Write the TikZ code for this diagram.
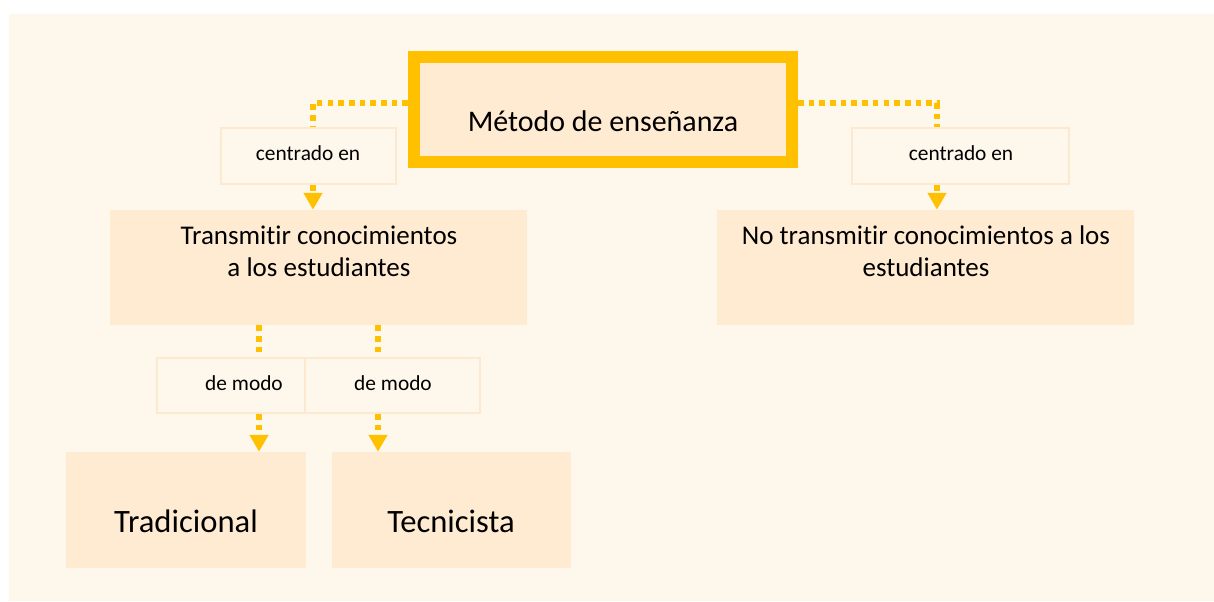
\documentclass[tikz,border=0pt]{standalone}
\usepackage{fontspec}
\setmainfont{Carlito}[Ligatures={NoCommon,NoRare}]
\usetikzlibrary{arrows.meta}
\usetikzlibrary{positioning}
\definecolor{fondo}{HTML}{FEF7EC}
\definecolor{caja}{HTML}{FFEBD1}
\definecolor{borde}{HTML}{FCE9D0}
\definecolor{amarillo}{HTML}{FFC000}
\tikzset{
    mainbox/.style = {rectangle, draw=amarillo, line width=8.5pt, fill=caja, minimum width=9.45cm, minimum height=2.63cm},
    caja/.style = {rectangle, fill=caja, inner sep=0pt},
    etiqueta/.style = {rectangle, draw=borde, line width=1.4pt, fill=fondo, inner sep=0pt},
    txt/.style = {inner sep=0pt, align=center, text=black},
}

\begin{document}
\begin{tikzpicture}[
    x=0.025cm, y=-0.025cm
]
\tikzset{
    link/.style = {amarillo, line width=4pt, dash pattern=on 4pt off 3.6pt},
    linkf/.style = {link, -{Triangle[width=12.8pt,length=12pt]}},
    grande/.style = {txt, font=\fontsize{21.3}{25}\selectfont},
    medio/.style = {txt, font=\fontsize{19.2}{22.7}\selectfont},
    chico/.style = {txt, font=\fontsize{15.2}{18}\selectfont},
    enorme/.style = {txt, font=\fontsize{23.2}{27}\selectfont}
}
\useasboundingbox (0,0) rectangle (1214,601);
\fill[fondo] (9,14) rectangle (1214,601);
% cajas
\node[mainbox] at (603,109.5) (metodo) {};
\node[etiqueta, minimum width=4.375cm, minimum height=1.4cm] at (308.5,156) (cen1) {};
\node[etiqueta, minimum width=5.425cm, minimum height=1.4cm] at (960.5,156) (cen2) {};
\node[caja, minimum width=10.425cm, minimum height=2.875cm] at (318.5,267.5) (trans) {};
\node[caja, minimum width=10.425cm, minimum height=2.875cm] at (925.5,267.5) (notrans) {};
\node[etiqueta, minimum width=3.7cm, minimum height=1.375cm] at (231,385.5) (modo1) {};
\node[etiqueta, minimum width=4.375cm, minimum height=1.375cm] at (392.5,385.5) (modo2) {};
\node[caja, minimum width=6cm, minimum height=2.9cm] at (186,510) (trad) {};
\node[caja, minimum width=5.975cm, minimum height=2.9cm] at (451.5,510) (tecn) {};
% textos
\node[grande, anchor=base] at (603,131) (metodoT) {Método de enseñanza};
\node[chico, anchor=base] at (308,160.7) (cen1T) {centrado en};
\node[chico, anchor=base] at (961,160.7) (cen2T) {centrado en};
\node[medio] at (319,251) (transT) {Transmitir conocimientos\\a los estudiantes};
\node[medio] at (926,251) (notransT) {No transmitir conocimientos a los\\estudiantes};
\node[chico, anchor=base] at (244,390) (modo1T) {de modo};
\node[chico, anchor=base] at (393,390) (modo2T) {de modo};
\node[enorme, anchor=base] at (186,532) (tradT) {Tradicional};
\node[enorme, anchor=base] at (451,532) (tecnT) {Tecnicista};
% conectores
\coordinate (c1) at (313,103);
\coordinate (c2) at (937,103);
\coordinate (c3) at (259,0);
\coordinate (c4) at (378,0);
\draw[link] (metodo.west |- c1) -- (c1) -- (c1 |- cen1.north);
\draw[linkf] (c1 |- cen1.south) -- (c1 |- trans.north);
\draw[link] (metodo.east |- c2) -- (c2) -- (c2 |- cen2.north);
\draw[linkf] (c2 |- cen2.south) -- (c2 |- notrans.north);
\draw[link] (c3 |- trans.south) -- (c3 |- modo1.north);
\draw[linkf] (c3 |- modo1.south) -- (c3 |- trad.north);
\draw[link] (c4 |- trans.south) -- (c4 |- modo2.north);
\draw[linkf] (c4 |- modo2.south) -- (c4 |- tecn.north);
\end{tikzpicture}
\end{document}
